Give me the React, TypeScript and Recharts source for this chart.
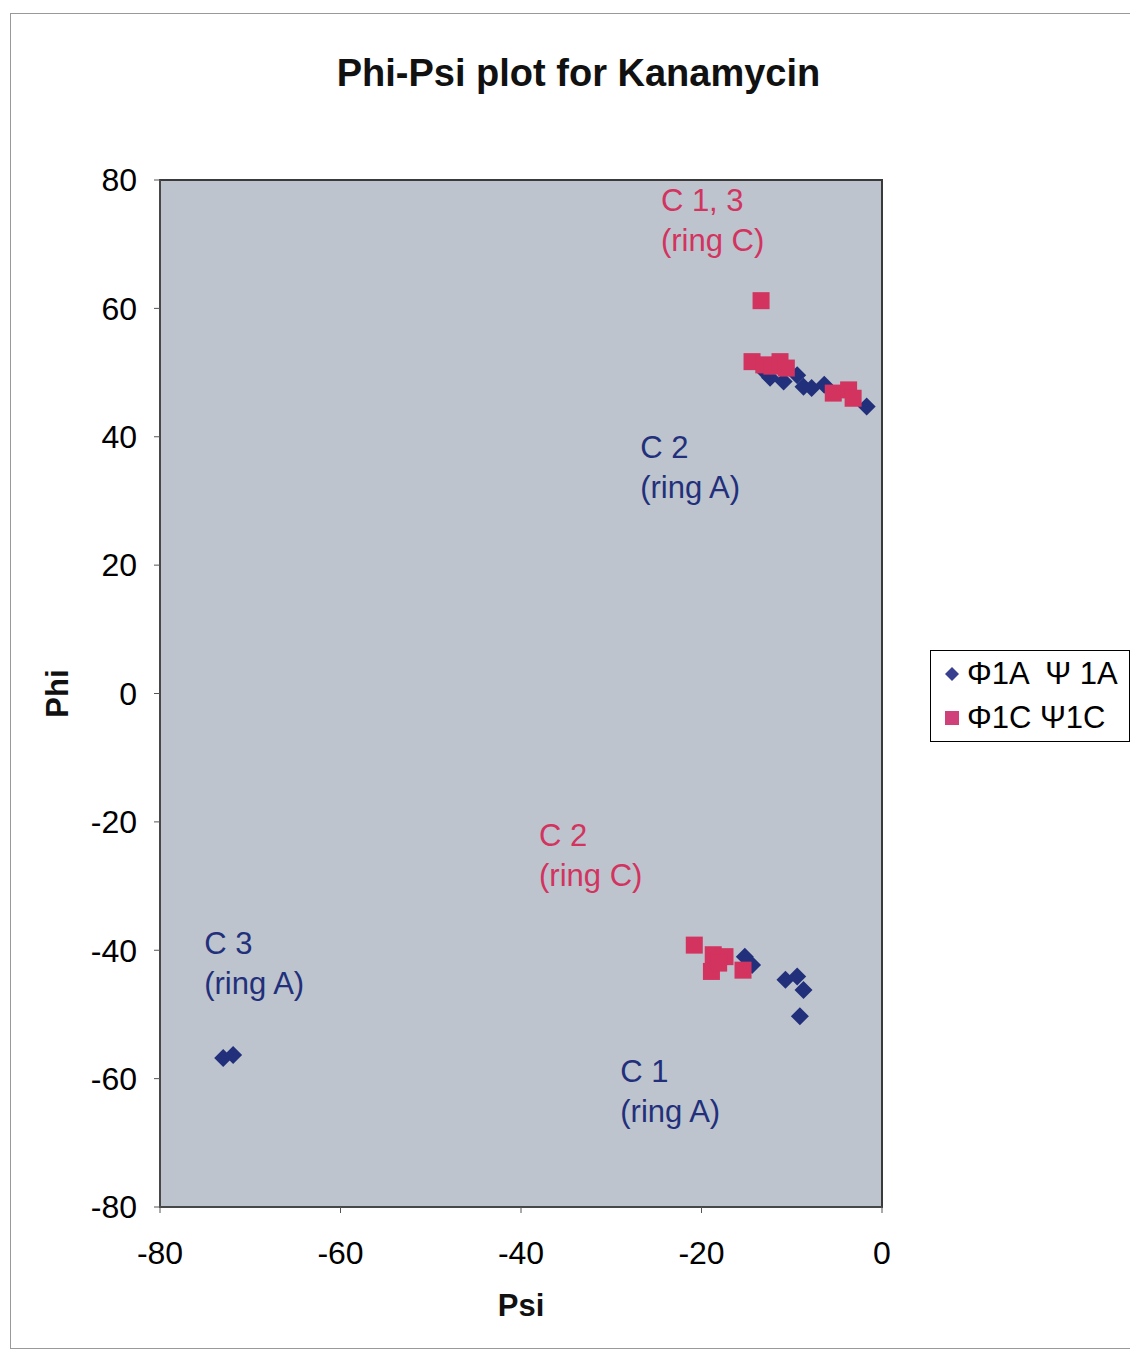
import {
  Legend,
  ReferenceArea,
  Scatter,
  ScatterChart,
  XAxis,
  YAxis,
} from "recharts";

const psi1A = [
  -12.9, -12.4, -10.9, -9.4, -8.7, -7.8, -6.4, -1.7,
  -15.2, -14.4, -10.7, -9.4, -8.7, -9.1,
  -73.0, -71.9,
];
const phi1A = [
  50.0, 49.2, 48.6, 49.6, 47.8, 47.6, 48.1, 44.7,
  -41.0, -42.3, -44.6, -44.1, -46.2, -50.3,
  -56.8, -56.3,
];

const psi1C = [
  -13.4, -14.4, -13.1, -12.2, -11.3, -10.6, -5.4, -3.7, -3.2,
  -20.8, -18.7, -17.4, -18.9, -18.1, -15.4,
];
const phi1C = [
  61.2, 51.7, 51.2, 51.0, 51.7, 50.7, 46.8, 47.3, 46.0,
  -39.2, -40.7, -41.0, -43.3, -42.0, -43.1,
];

const noteLines = [
  ["C 1, 3", "(ring C)"],
  ["C 2", "(ring A)"],
  ["C 2", "(ring C)"],
  ["C 3", "(ring A)"],
  ["C 1", "(ring A)"],
];
const noteX = [-24.5, -26.8, -38.0, -75.1, -29.0];
const noteY = [76.9, 38.4, -22.0, -38.8, -58.8];
const noteColor = ["red", "blue", "red", "blue", "blue"];

const xTicks = [-80, -60, -40, -20, 0];
const yTicks = [-80, -60, -40, -20, 0, 20, 40, 60, 80];

const BLUE = "#22307c";
const RED = "#d2335f";
const FONT = "'Liberation Sans', Arial, sans-serif";

const seriesA = psi1A.map((x, i) => ({ x, y: phi1A[i] }));
const seriesC = psi1C.map((x, i) => ({ x, y: phi1C[i] }));
const notes = noteLines.map((lines, i) => ({
  x: noteX[i],
  y: noteY[i],
  lines,
  color: noteColor[i] === "red" ? RED : BLUE,
}));

function Diamond(props: any) {
  const { cx, cy } = props;
  const r = 9;
  return (
    <polygon
      points={`${cx},${cy - r} ${cx + r},${cy} ${cx},${cy + r} ${cx - r},${cy}`}
      fill={BLUE}
    />
  );
}

function Square(props: any) {
  const { cx, cy } = props;
  const s = 17;
  return <rect x={cx - s / 2} y={cy - s / 2} width={s} height={s} fill={RED} />;
}

function Note(props: any) {
  const { cx, cy, payload } = props;
  return (
    <text
      x={cx}
      y={cy}
      fill={payload.color}
      fontSize={31}
      fontFamily={FONT}
      dominantBaseline="central"
    >
      <tspan x={cx} dy={0}>{payload.lines[0]}</tspan>
      <tspan x={cx} dy={40}>{payload.lines[1]}</tspan>
    </text>
  );
}

function LegendBox() {
  const row = { display: "flex", alignItems: "center", height: 44 };
  return (
    <div
      style={{
        border: "1px solid #000",
        background: "#fff",
        width: 200,
        height: 92,
        boxSizing: "border-box",
        padding: "0 0 0 12px",
        fontFamily: FONT,
        fontSize: 31,
        color: "#000",
      }}
    >
      <div style={{ ...row, marginTop: 1 }}>
        <svg width={18} height={18} style={{ marginRight: 6 }}>
          <polygon points="9,2 16,9 9,16 2,9" fill="#3a4090" />
        </svg>
        <span style={{ whiteSpace: "pre" }}>Φ1A  Ψ 1A</span>
      </div>
      <div style={row}>
        <svg width={18} height={18} style={{ marginRight: 6 }}>
          <rect x={2} y={2} width={14} height={14} fill="#d0407a" />
        </svg>
        <span>Φ1C Ψ1C</span>
      </div>
    </div>
  );
}

export default function App() {
  const tick = { fontSize: 32, fill: "#000", fontFamily: FONT };
  return (
    <div
      style={{
        position: "absolute",
        left: 0,
        top: 0,
        width: 1130,
        height: 1350,
        background: "#fff",
      }}
    >
      <div
        style={{
          position: "absolute",
          left: 10,
          top: 13,
          width: 1125,
          height: 1334,
          border: "1px solid #999",
        }}
      />
      <div
        style={{
          position: "absolute",
          left: 0,
          top: 52,
          width: 1157,
          textAlign: "center",
          fontFamily: FONT,
          fontWeight: "bold",
          fontSize: 38,
          color: "#111",
        }}
      >
        Phi-Psi plot for Kanamycin
      </div>
      <ScatterChart
        width={1130}
        height={1350}
        margin={{ top: 180, right: 248, bottom: 0, left: 0 }}
        style={{ position: "absolute", left: 0, top: 0 }}
      >
        <ReferenceArea
          x1={-80}
          x2={0}
          y1={-80}
          y2={80}
          fill="#bec4cd"
          fillOpacity={1}
          stroke="#3a3a3a"
          strokeWidth={2}
        />
        <XAxis
          type="number"
          dataKey="x"
          domain={[-80, 0]}
          ticks={xTicks}
          height={143}
          tick={tick}
          tickSize={6}
          tickMargin={28}
          stroke="#555"
          label={{
            value: "Psi",
            position: "insideBottom",
            offset: 34,
            style: { fontSize: 31, fontWeight: "bold", fill: "#111", fontFamily: FONT },
          }}
        />
        <YAxis
          type="number"
          dataKey="y"
          domain={[-80, 80]}
          ticks={yTicks}
          width={160}
          tick={tick}
          tickSize={6}
          tickMargin={17}
          stroke="#555"
          label={{
            value: "Phi",
            angle: -90,
            position: "insideLeft",
            offset: 57,
            style: {
              fontSize: 31,
              fontWeight: "bold",
              fill: "#111",
              fontFamily: FONT,
              textAnchor: "middle",
            },
          }}
        />
        <Legend
          layout="vertical"
          align="center"
          verticalAlign="middle"
          content={() => <LegendBox />}
          wrapperStyle={{ left: 930, top: 650, width: 200, height: 92 }}
        />
        <Scatter
          name="Φ1A  Ψ 1A"
          data={seriesA}
          shape={Diamond}
          isAnimationActive={false}
        />
        <Scatter
          name="Φ1C Ψ1C"
          data={seriesC}
          shape={Square}
          isAnimationActive={false}
        />
        <Scatter
          name="notes"
          data={notes}
          shape={Note}
          legendType="none"
          isAnimationActive={false}
        />
      </ScatterChart>
    </div>
  );
}
